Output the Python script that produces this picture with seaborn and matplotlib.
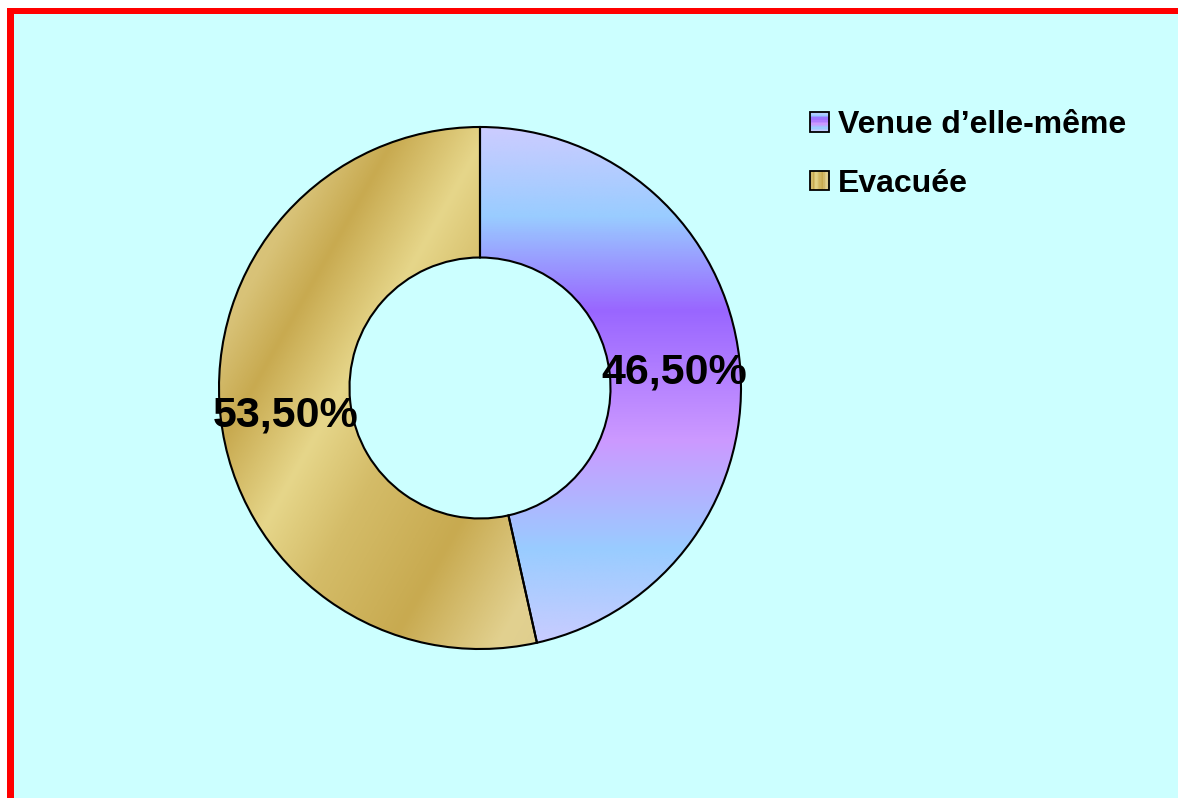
import numpy as np
import matplotlib
matplotlib.use("Agg")
import matplotlib.pyplot as plt
import matplotlib.transforms as mtransforms
import seaborn as sns
from matplotlib.colors import LinearSegmentedColormap
from matplotlib.patches import Rectangle
from matplotlib.legend_handler import HandlerBase

# ---- data -------------------------------------------------------------
categories = ["Venue d\u2019elle-même", "Evacuée"]
shares = [46.5, 53.5]

# ---- style --------------------------------------------------------------
sns.set_theme(style="white")
plt.rcParams["font.family"] = ["Liberation Sans", "DejaVu Sans"]
plt.rcParams["text.color"] = "black"

W, H = 1178, 798
fig = plt.figure(figsize=(W / 100, H / 100), dpi=100)
fig.patch.set_facecolor("white")

# red frame with pale cyan chart area (behind the axes)
fig.patches.append(Rectangle((7 / W, 0), 1.0, 1 - 8 / H, transform=fig.transFigure,
                             facecolor="#FF0000", edgecolor="none", zorder=-2))
fig.patches.append(Rectangle((13.5 / W, 0), 1.0, 1 - 14 / H, transform=fig.transFigure,
                             facecolor="#CCFFFF", edgecolor="none", zorder=-1))

# gradient fills
purple_cmap = LinearSegmentedColormap.from_list(
    "lilac",
    [(0.00, "#CCCCFF"), (0.19, "#99CCFF"), (0.40, "#CC99FF"),
     (0.65, "#9966FF"), (0.83, "#99CCFF"), (1.00, "#CCCCFF")])

t_lo, t_hi = -1.1, 0.8
gold_stops = [(-1.10, "#DCC77E"), (-0.96, "#D8C277"), (-0.76, "#C8AA50"),
              (-0.46, "#E6D68A"), (-0.19, "#D4BC68"), (0.19, "#C8AA50"),
              (0.55, "#E2D190"), (0.80, "#DCCB8C")]
gold_cmap = LinearSegmentedColormap.from_list(
    "gold", [((t - t_lo) / (t_hi - t_lo), c) for t, c in gold_stops])

# ---- donut ----------------------------------------------------------------
cx, cy, R = 480, 388, 261
ax = fig.add_axes([(cx - R) / W, (H - cy - R) / H, 2 * R / W, 2 * R / H])
ax.patch.set_alpha(0)


def pct_label(p):
    return f"{p:.2f}%".replace(".", ",")


wedges, texts, autotexts = ax.pie(
    shares, startangle=90, counterclock=False, radius=1.0,
    wedgeprops=dict(width=0.5, edgecolor="black", linewidth=1.5, facecolor="none"),
    autopct=pct_label, pctdistance=0.75,
    textprops=dict(fontsize=31, fontweight="bold", color="black"))

# value labels sit slightly below the ring's mid-line
for t in autotexts:
    t.set_transform(mtransforms.offset_copy(ax.transData, fig=fig, x=0, y=-6, units="dots"))

yy, xx = np.mgrid[-1:1:700j, -1:1:700j]
fills = [(yy + 1) / 2, (0.87 * xx - 0.493 * yy - t_lo) / (t_hi - t_lo)]
for wedge, field, cmap in zip(wedges, fills, [purple_cmap, gold_cmap]):
    im = ax.imshow(field, extent=(-1, 1, -1, 1), origin="lower", cmap=cmap,
                   vmin=0, vmax=1, interpolation="bilinear", zorder=0.5, aspect="auto")
    im.set_clip_path(wedge)

ax.set_xlim(-1, 1)
ax.set_ylim(-1, 1)
ax.set_aspect("auto")
ax.set_axis_off()


# ---- legend -------------------------------------------------------------
class GradientSwatch(HandlerBase):
    def __init__(self, cmap, vertical=True, n=14):
        super().__init__()
        self.cmap, self.vertical, self.n = cmap, vertical, n

    def create_artists(self, legend, orig_handle, xdescent, ydescent,
                       width, height, fontsize, trans):
        x0, y0 = -xdescent, -ydescent
        arts = []
        for i in range(self.n):
            c = self.cmap((i + 0.5) / self.n)
            if self.vertical:
                r = Rectangle((x0, y0 + height * i / self.n), width, height / self.n,
                              facecolor=c, edgecolor="none", transform=trans)
            else:
                r = Rectangle((x0 + width * i / self.n, y0), width / self.n, height,
                              facecolor=c, edgecolor="none", transform=trans)
            arts.append(r)
        arts.append(Rectangle((x0, y0), width, height, facecolor="none",
                              edgecolor="black", linewidth=1.3, transform=trans))
        return arts


leg = fig.legend(wedges, categories, loc="upper left",
                 bbox_to_anchor=(810 / W, 1 - 110 / H), bbox_transform=fig.transFigure,
                 frameon=False, prop=dict(weight="bold", size=23),
                 handlelength=0.58, handleheight=0.58, handletextpad=0.3,
                 labelspacing=0.9, borderpad=0, borderaxespad=0,
                 handler_map={wedges[0]: GradientSwatch(purple_cmap, True),
                              wedges[1]: GradientSwatch(gold_cmap, False)})
for t in leg.get_texts():
    t.set_color("black")

fig.savefig("out.png", dpi=100, facecolor=fig.get_facecolor())
